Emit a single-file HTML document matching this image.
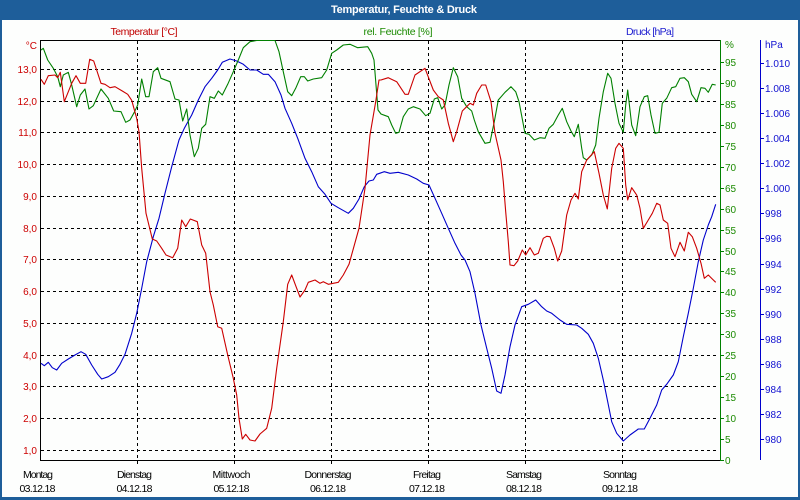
<!DOCTYPE html>
<html><head><meta charset="utf-8"><style>
html,body{margin:0;padding:0;background:#fff;}
svg{display:block;}
text{font-family:"Liberation Sans",Arial,sans-serif;}
</style></head><body>
<svg width="800" height="500" viewBox="0 0 800 500" xmlns="http://www.w3.org/2000/svg">
<rect x="0" y="0" width="800" height="500" fill="#fdfefd"/>
<!-- window frame -->
<rect x="0" y="0" width="800" height="20" fill="#1e5e9a"/>
<rect x="0" y="0" width="2" height="500" fill="#1e5e9a"/>
<rect x="798" y="0" width="2" height="500" fill="#1e5e9a"/>
<rect x="0" y="497" width="800" height="3" fill="#1e5e9a"/>
<text x="404" y="13" text-anchor="middle" font-size="11" font-weight="bold" fill="#ffffff" textLength="146">Temperatur, Feuchte &amp; Druck</text>

<!-- series titles -->
<text x="144" y="35" text-anchor="middle" font-size="10.5" fill="#c00000" textLength="67">Temperatur [°C]</text>
<text x="398" y="35" text-anchor="middle" font-size="10.5" fill="#1a8a00" textLength="69">rel. Feuchte [%]</text>
<text x="650" y="35" text-anchor="middle" font-size="10.5" fill="#2020d0" textLength="48">Druck [hPa]</text>

<!-- grid -->
<g stroke="#000" stroke-width="1" stroke-dasharray="3,3" shape-rendering="crispEdges" fill="none">
<line x1="41" y1="69.5" x2="719" y2="69.5"/>
<line x1="41" y1="101.5" x2="719" y2="101.5"/>
<line x1="41" y1="132.5" x2="719" y2="132.5"/>
<line x1="41" y1="164.5" x2="719" y2="164.5"/>
<line x1="41" y1="196.5" x2="719" y2="196.5"/>
<line x1="41" y1="228.5" x2="719" y2="228.5"/>
<line x1="41" y1="259.5" x2="719" y2="259.5"/>
<line x1="41" y1="291.5" x2="719" y2="291.5"/>
<line x1="41" y1="323.5" x2="719" y2="323.5"/>
<line x1="41" y1="355.5" x2="719" y2="355.5"/>
<line x1="41" y1="386.5" x2="719" y2="386.5"/>
<line x1="41" y1="418.5" x2="719" y2="418.5"/>
<line x1="41" y1="450.5" x2="719" y2="450.5"/>
<line x1="137.5" y1="41" x2="137.5" y2="464"/>
<line x1="234.5" y1="41" x2="234.5" y2="464"/>
<line x1="331.5" y1="41" x2="331.5" y2="464"/>
<line x1="428.5" y1="41" x2="428.5" y2="464"/>
<line x1="525.5" y1="41" x2="525.5" y2="464"/>
<line x1="622.5" y1="41" x2="622.5" y2="464"/>
</g>

<!-- axes -->
<g shape-rendering="crispEdges" stroke-width="1" fill="none">
<line x1="40.5" y1="40" x2="40.5" y2="461" stroke="#000"/>
<line x1="40" y1="40.5" x2="720" y2="40.5" stroke="#000"/>
<line x1="40" y1="460.5" x2="720" y2="460.5" stroke="#000"/>
<line x1="720.5" y1="40" x2="720.5" y2="461" stroke="#008000"/>
<line x1="760.5" y1="40" x2="760.5" y2="460" stroke="#0000cc"/>
<g stroke="#008000">
<line x1="721" y1="460.5" x2="724" y2="460.5"/>
<line x1="721" y1="439.5" x2="724" y2="439.5"/>
<line x1="721" y1="418.5" x2="724" y2="418.5"/>
<line x1="721" y1="397.5" x2="724" y2="397.5"/>
<line x1="721" y1="376.5" x2="724" y2="376.5"/>
<line x1="721" y1="355.5" x2="724" y2="355.5"/>
<line x1="721" y1="334.5" x2="724" y2="334.5"/>
<line x1="721" y1="313.5" x2="724" y2="313.5"/>
<line x1="721" y1="292.5" x2="724" y2="292.5"/>
<line x1="721" y1="271.5" x2="724" y2="271.5"/>
<line x1="721" y1="251.5" x2="724" y2="251.5"/>
<line x1="721" y1="230.5" x2="724" y2="230.5"/>
<line x1="721" y1="209.5" x2="724" y2="209.5"/>
<line x1="721" y1="188.5" x2="724" y2="188.5"/>
<line x1="721" y1="167.5" x2="724" y2="167.5"/>
<line x1="721" y1="146.5" x2="724" y2="146.5"/>
<line x1="721" y1="125.5" x2="724" y2="125.5"/>
<line x1="721" y1="104.5" x2="724" y2="104.5"/>
<line x1="721" y1="83.5" x2="724" y2="83.5"/>
<line x1="721" y1="62.5" x2="724" y2="62.5"/>
</g>
<g stroke="#0000cc">
<line x1="761" y1="439.5" x2="764" y2="439.5"/>
<line x1="761" y1="414.5" x2="764" y2="414.5"/>
<line x1="761" y1="389.5" x2="764" y2="389.5"/>
<line x1="761" y1="364.5" x2="764" y2="364.5"/>
<line x1="761" y1="339.5" x2="764" y2="339.5"/>
<line x1="761" y1="314.5" x2="764" y2="314.5"/>
<line x1="761" y1="289.5" x2="764" y2="289.5"/>
<line x1="761" y1="264.5" x2="764" y2="264.5"/>
<line x1="761" y1="238.5" x2="764" y2="238.5"/>
<line x1="761" y1="213.5" x2="764" y2="213.5"/>
<line x1="761" y1="188.5" x2="764" y2="188.5"/>
<line x1="761" y1="163.5" x2="764" y2="163.5"/>
<line x1="761" y1="138.5" x2="764" y2="138.5"/>
<line x1="761" y1="113.5" x2="764" y2="113.5"/>
<line x1="761" y1="88.5" x2="764" y2="88.5"/>
<line x1="761" y1="63.5" x2="764" y2="63.5"/>
</g>
</g>

<!-- temperature labels -->
<g font-size="10" fill="#cc0000" text-anchor="end">
<text x="37" y="49">°C</text>
<text x="37" y="73">13,0</text>
<text x="37" y="105">12,0</text>
<text x="37" y="136">11,0</text>
<text x="37" y="168">10,0</text>
<text x="37" y="200">9,0</text>
<text x="37" y="232">8,0</text>
<text x="37" y="263">7,0</text>
<text x="37" y="295">6,0</text>
<text x="37" y="327">5,0</text>
<text x="37" y="359">4,0</text>
<text x="37" y="390">3,0</text>
<text x="37" y="422">2,0</text>
<text x="37" y="454">1,0</text>
</g>

<!-- humidity labels -->
<g font-size="10" fill="#1a8a00">
<text x="725" y="48">%</text>
<text x="725" y="464">0</text>
<text x="725" y="443">5</text>
<text x="725" y="422">10</text>
<text x="725" y="401">15</text>
<text x="725" y="380">20</text>
<text x="725" y="359">25</text>
<text x="725" y="338">30</text>
<text x="725" y="317">35</text>
<text x="725" y="296">40</text>
<text x="725" y="275">45</text>
<text x="725" y="255">50</text>
<text x="725" y="234">55</text>
<text x="725" y="213">60</text>
<text x="725" y="192">65</text>
<text x="725" y="171">70</text>
<text x="725" y="150">75</text>
<text x="725" y="129">80</text>
<text x="725" y="108">85</text>
<text x="725" y="87">90</text>
<text x="725" y="66">95</text>
</g>

<!-- pressure labels -->
<g font-size="10" fill="#1010d0">
<text x="765" y="48">hPa</text>
<text x="765" y="443">980</text>
<text x="765" y="418">982</text>
<text x="765" y="393">984</text>
<text x="765" y="368">986</text>
<text x="765" y="343">988</text>
<text x="765" y="318">990</text>
<text x="765" y="293">992</text>
<text x="765" y="268">994</text>
<text x="765" y="242">996</text>
<text x="765" y="217">998</text>
<text x="765" y="192">1.000</text>
<text x="765" y="167">1.002</text>
<text x="765" y="142">1.004</text>
<text x="765" y="117">1.006</text>
<text x="765" y="92">1.008</text>
<text x="765" y="67">1.010</text>
</g>

<!-- day labels -->
<g font-size="10.5" fill="#000" text-anchor="middle">
<text x="38" y="478" textLength="30">Montag</text>
<text x="37.5" y="492" textLength="36">03.12.18</text>
<text x="134.5" y="478" textLength="35">Dienstag</text>
<text x="134.5" y="492" textLength="36">04.12.18</text>
<text x="231.5" y="478" textLength="38">Mittwoch</text>
<text x="231.5" y="492" textLength="36">05.12.18</text>
<text x="328" y="478" textLength="47">Donnerstag</text>
<text x="328" y="492" textLength="36">06.12.18</text>
<text x="427" y="478" textLength="28">Freitag</text>
<text x="427" y="492" textLength="36">07.12.18</text>
<text x="524" y="478" textLength="36">Samstag</text>
<text x="524" y="492" textLength="36">08.12.18</text>
<text x="620" y="478" textLength="34">Sonntag</text>
<text x="620" y="492" textLength="36">09.12.18</text>
</g>

<!-- series -->
<g fill="none" stroke-width="1.1" stroke-linejoin="round">
<polyline stroke="#0000cc" points="41,363.3 44.3,365.7 48.3,362.3 52.3,367.7 56.7,370 61.7,363.3 68.3,359 75,355 81,351.7 85.7,354.3 91.7,365 97.7,374.3 101.7,379 108.3,376.7 115,372.3 120,364.3 125,354.3 131.7,333.3 136.7,313.3 141.7,288.3 146.7,261.7 153.3,236.7 159,218.3 165,193.3 171.7,166.7 179,140 184.3,128.3 191.7,115 198.3,100 205,86.7 211.7,78.3 217.7,70 222.3,62.3 230,59 236.7,61 243.3,64.3 250,70 256.7,70 263.3,74.3 268.3,74.3 275,81.7 281,95 285,108.3 291.7,123.3 297.7,138.3 305,158.3 311.7,171.7 318.3,186.7 325,194.3 331,203.3 338.3,207.7 348.3,213.3 353.3,208.3 359,199 364.3,186.7 369,181 373.3,180 376.7,174.3 384.3,171.7 390,173.3 398.3,172.3 408.3,175 416.7,179 423.3,183.3 429,185 435,198.3 441.7,213.3 448.3,228.3 455,243.3 461,255 465,260 470,271.7 475,293.3 481,325 486.7,348.3 491.7,368.3 496.7,391 501,393.3 505,375 510,346.7 515,325 521.7,306.7 528.3,304.3 535.7,300 541.7,306.7 546.7,311 551.7,313.3 560,320 566.7,324.3 576.7,325 581.7,328.3 588.3,334.3 593.3,343.3 598.3,358.3 603.3,380 607.7,401.7 611.7,421.7 616.7,433.3 623.3,441 630,435 638.3,429 644.3,429 650,418.3 656.7,405 661.7,390 666.7,384.3 673.3,375 678.3,361.7 683.3,336.7 688.3,313.3 693.3,288.3 698.3,261.7 703.3,240 708.3,225 711.7,216.7 715.7,204.3"/>
<polyline stroke="#008000" points="41,50 43.3,48.3 47.7,60 53.3,68.3 57.7,76.7 60.3,86.7 63.3,75 68.3,72.3 71.7,85 76.7,106.7 80.3,95 85,89 89,109 93.3,105.7 101,89 108.3,98.3 113.7,111 121,111.7 125.7,122.3 130,120 134.3,112.3 137.7,105 141.7,79 145.7,96.7 149,96.7 153.3,71.7 157.7,67.7 161,78.3 170,81.7 175,99 179,100 182.7,121 186.7,109 190,135 194.3,156.7 198.3,148.3 201.7,128.3 205.7,124.3 210,96.7 214.3,98.3 218.3,91 222.3,95 227.7,84.3 233.3,71.7 238.3,60 243.3,47.7 250,41.7 256.7,40.5 275,40.5 279,51.7 283.3,71.7 287.7,91.7 291.7,95.7 295.7,88.3 300.7,76.7 304.3,76.7 307.7,81 313.3,79 321.7,77.7 326.7,70 331.7,53.3 336.7,50 343.3,45 350,44.3 357.7,47.7 367.7,46.7 371.7,53.3 374,60 376,85 378,110 381,114 388.3,116.7 391.7,125 395.7,133.3 399,132.3 403.3,116.7 408.3,109 413.3,106.7 420,109 425.7,115.7 430,113.3 434.3,99 437.7,97.7 441.7,109 445,105 449,85 453.3,67.7 457.7,76.7 461.7,98.3 466.7,106.7 471.7,111 474.3,120 478.3,131.7 485,143.3 490,142.3 494.3,121.7 498.3,100 505,92.3 511,86.7 515.7,91.7 519,101.7 525,133.3 529,134.3 534.3,140 540,137.7 545,138.3 549,128.3 553.3,124.3 558.3,115 562.3,108.3 566.7,121.7 571,131 574.3,136.7 578.3,124.3 581.7,148.3 583.3,157.7 586.7,160 591.7,155 595.7,145 599,118.3 603.3,91.7 607.7,73.3 611,78.3 615,103.3 619,123.3 623.3,132.3 625.7,105 627.7,90 631.7,125 635.7,135.7 640,106.7 644.3,96.7 647.7,95.7 651,115 655,133.3 659,132.3 662.3,103.3 666.7,98.3 671.7,87.7 675.7,86.7 680,78.3 684.3,77.7 688.3,81.7 691.7,94.3 696.7,101.7 701,87.7 705,88.3 708.3,92.3 712.3,84.3 715.7,85"/>
<polyline stroke="#cc0000" points="41,79.3 44.3,84.3 48.3,75.7 55,75 57.7,77.7 60.3,72.3 64.3,101.7 71.7,83.3 76,75.7 80.3,83.3 85.7,83.3 89.7,59.3 93.7,61 101,83.3 105,84.3 110,87.7 115,86.7 122.3,91 127.7,94.3 131.7,100.3 136.7,118.3 139,131.7 141.7,168.3 146,213.3 152.3,239 156.7,241 161.7,248.3 166,255 172.7,257.7 177.7,248.3 181.7,220 185.7,226.7 190.3,219 197.3,221.7 201.7,245 205.7,253.3 210,291.7 213.3,305 217.7,326.7 221.7,328.3 227.7,355 233.3,378.3 236.7,395 239,418.3 242.3,439 245.7,434.3 250,440 255,441 260,434 266.7,428.3 271.7,408.3 276.7,368.3 283.3,321.7 287.7,284.3 291.7,275 295.7,285.7 300,297 305,290 308.3,282.3 315,280 320,283.3 323.3,281.7 328.3,284.3 338.3,282.3 343.3,275 349,264.3 359,228.3 365,188.3 370,135 375.7,101.7 379,80 381,80 388.3,77.7 396.7,81.7 405,94.3 408.3,94.3 415,75 425,68.3 433.3,90 438.3,96.7 443.3,100 448.3,123.3 453.3,141.7 456.7,131.7 462.3,111 470,103.3 473.3,105 476.7,93.3 481.7,85 485.7,85 491,101.7 495,133.3 501,160 503.3,181.7 505.7,211.7 508.3,241.7 510,265 514,265.7 517.7,261 522.3,250 525.7,255 530,247.7 534.3,255 538.3,253.3 543.3,238.3 546.7,236.3 550,236.7 554.3,248.3 557.7,261 561.7,251 566.7,215 571,200 575,193.3 578.3,199 581.7,171.7 586.7,160 594.3,151.7 599,173.3 603.3,195 607.3,209 611.7,168.3 615.7,148.3 619,143.3 623.3,148.3 625.7,185 627.7,200 631.7,187.7 636.7,195 640,208.3 643.3,228.3 648.3,220 652.3,213.3 656.7,203.3 660,205 663.3,220 667.7,223.3 671,248.3 675,256.7 680,242.3 684.3,251 688.3,232.3 692.3,236.7 696.7,248.3 701,263.3 704.3,278.3 708.3,275 712.3,279 715.7,282.3"/>
</g>
</svg>
</body></html>
